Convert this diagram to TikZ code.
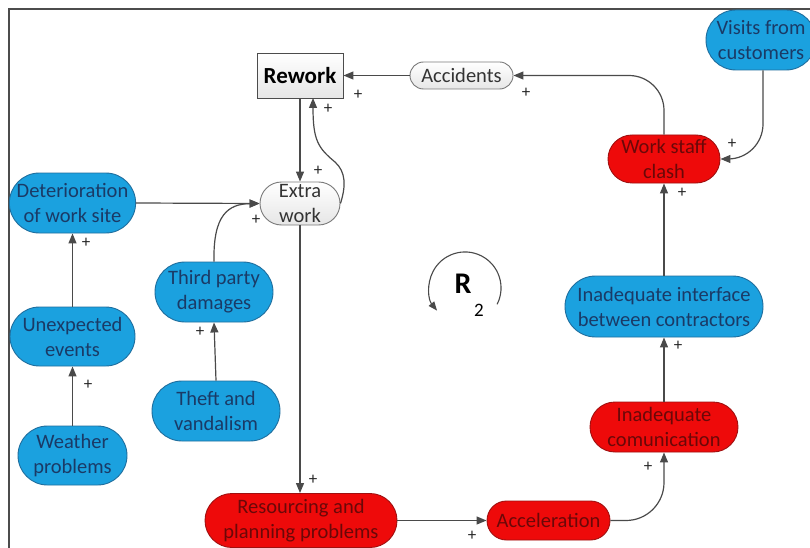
\documentclass[tikz,border=0pt]{standalone}
\usepackage{fontspec}
\setmainfont{Carlito}
\usetikzlibrary{arrows.meta,shapes.misc}
\definecolor{cyanfill}{HTML}{1BA1DF}
\definecolor{cyanedge}{HTML}{1F6E9E}
\definecolor{cyantext}{HTML}{1A3A66}
\definecolor{redfill}{HTML}{EE0A0A}
\definecolor{rededge}{HTML}{A01010}
\definecolor{redtext}{HTML}{6A0808}
\definecolor{greyfill}{HTML}{E6E6E6}
\definecolor{greyedge}{HTML}{7A7A7A}
\definecolor{wire}{HTML}{4A4A4A}
\begin{document}
\begin{tikzpicture}[x=1pt,y=-1pt,
  every node/.style={font=\fontsize{20.5}{25}\selectfont, inner sep=0pt, align=center},
  pill/.style={rounded rectangle, draw, line width=0.9pt},
  bluepill/.style={pill, fill=cyanfill, draw=cyanedge, text=cyantext},
  redpill/.style={pill, fill=redfill, draw=rededge, text=redtext},
  greypill/.style={pill, top color=white, bottom color=greyfill, draw=greyedge, text=black!80},
  link/.style={draw=wire, line width=1.2pt, -{Triangle[length=10pt,width=8pt]}},
  sign/.style={font=\fontsize{17}{17}\selectfont, text=black!85},
]
\useasboundingbox (0,0) rectangle (810,548);
\fill[white] (0,0) rectangle (810,548);
% frame
\draw[line width=1.2pt, black!70] (9,548) -- (9,9) -- (810,9);

% central variables
\node[draw=black!70, line width=0.9pt, top color=white, bottom color=greyfill,
      minimum width=86pt, minimum height=45pt, font=\fontsize{23}{25}\selectfont\bfseries]
      (rework) at (300,75.5) {Rework};
\node[greypill, minimum width=103pt, minimum height=27pt] (acc) at (461.5,75.5) {Accidents};
\node[greypill, minimum width=80pt, minimum height=43pt] (extra) at (300,203.5) {Extra\\work};

% external causes
\node[bluepill, minimum width=110pt, minimum height=60pt] (visits) at (761,40) {Visits from\\customers};
\node[bluepill, minimum width=125pt, minimum height=60pt] (deter) at (72.5,203) {Deterioration\\of work site};
\node[bluepill, minimum width=125pt, minimum height=59pt] (unexp) at (72.5,336.5) {Unexpected\\events};
\node[bluepill, minimum width=109pt, minimum height=59pt] (weather) at (72.5,455.5) {Weather\\problems};
\node[bluepill, minimum width=118pt, minimum height=60pt] (third) at (214,292) {Third party\\damages};
\node[bluepill, minimum width=128pt, minimum height=60pt] (theft) at (216,411) {Theft and\\vandalism};
\node[bluepill, minimum width=198pt, minimum height=61pt] (iface) at (664,306.5) {Inadequate interface\\between contractors};

% loop variables
\node[redpill, minimum width=112pt, minimum height=48pt] (staff) at (664,159) {Work staff\\clash};
\node[redpill, minimum width=192pt, minimum height=54pt] (resource) at (301,520.5) {Resourcing and\\planning problems};
\node[redpill, minimum width=123pt, minimum height=39pt] (accel) at (548.5,520.5) {Acceleration};
\node[redpill, minimum width=148pt, minimum height=50pt] (comm) at (664,427) {Inadequate\\comunication};

% loop marker
\node (rr) at (463,284) {\fontsize{30}{30}\selectfont\bfseries R};
\node (two) at (479,310) {\fontsize{19}{19}\selectfont 2};
\draw[draw=wire, line width=1.1pt, -{Triangle[length=9pt,width=7pt]}]
  (497.1,304.3) arc[start angle=27, end angle=-219, radius=36];

% connectors
\draw[link] (acc.west) -- (rework.east);
\draw[link, rounded corners=35pt] (staff.north) |- (acc.east);
\draw[link, rounded corners=35pt] ([xshift=2pt]visits.south) |- (staff.east);
\draw[link] (iface.north) -- (staff.south);
\draw[link] (comm.north) -- (iface.south);
\draw[link, rounded corners=38pt] (accel.east) -| (comm.south);
\draw[link] (resource.east) -- (accel.west);
\draw[link] (extra.south) -- (resource.north -| extra.south);
\draw[link] (rework.south) -- (extra.north);
\coordinate (loopend) at (313,98);
\draw[link] (extra.east) .. controls (346,186) and (346,172) .. (335,162)
  .. controls (318,148) and (313,140) .. (loopend);
\draw[link] (deter.east) -- (extra.west);
\draw[link] (third.north) .. controls (213,215) and (228,204) .. (extra.west);
\draw[link] (unexp.north) -- (deter.south);
\draw[link] (weather.north) -- (unexp.south);
\draw[link] (theft.north) -- (third.south);

% polarity signs
\node[sign] (s1) at (358,95) {+};
\node[sign] (s2) at (328,109) {+};
\node[sign] (s3) at (318,171) {+};
\node[sign] (s4) at (256,220) {+};
\node[sign] (s5) at (86,243) {+};
\node[sign] (s6) at (526,93) {+};
\node[sign] (s7) at (732,144) {+};
\node[sign] (s8) at (682,193) {+};
\node[sign] (s9) at (200,332) {+};
\node[sign] (s10) at (88,385) {+};
\node[sign] (s11) at (313,480) {+};
\node[sign] (s12) at (472,536) {+};
\node[sign] (s13) at (648,467) {+};
\node[sign] (s14) at (678,346) {+};
\end{tikzpicture}
\end{document}
